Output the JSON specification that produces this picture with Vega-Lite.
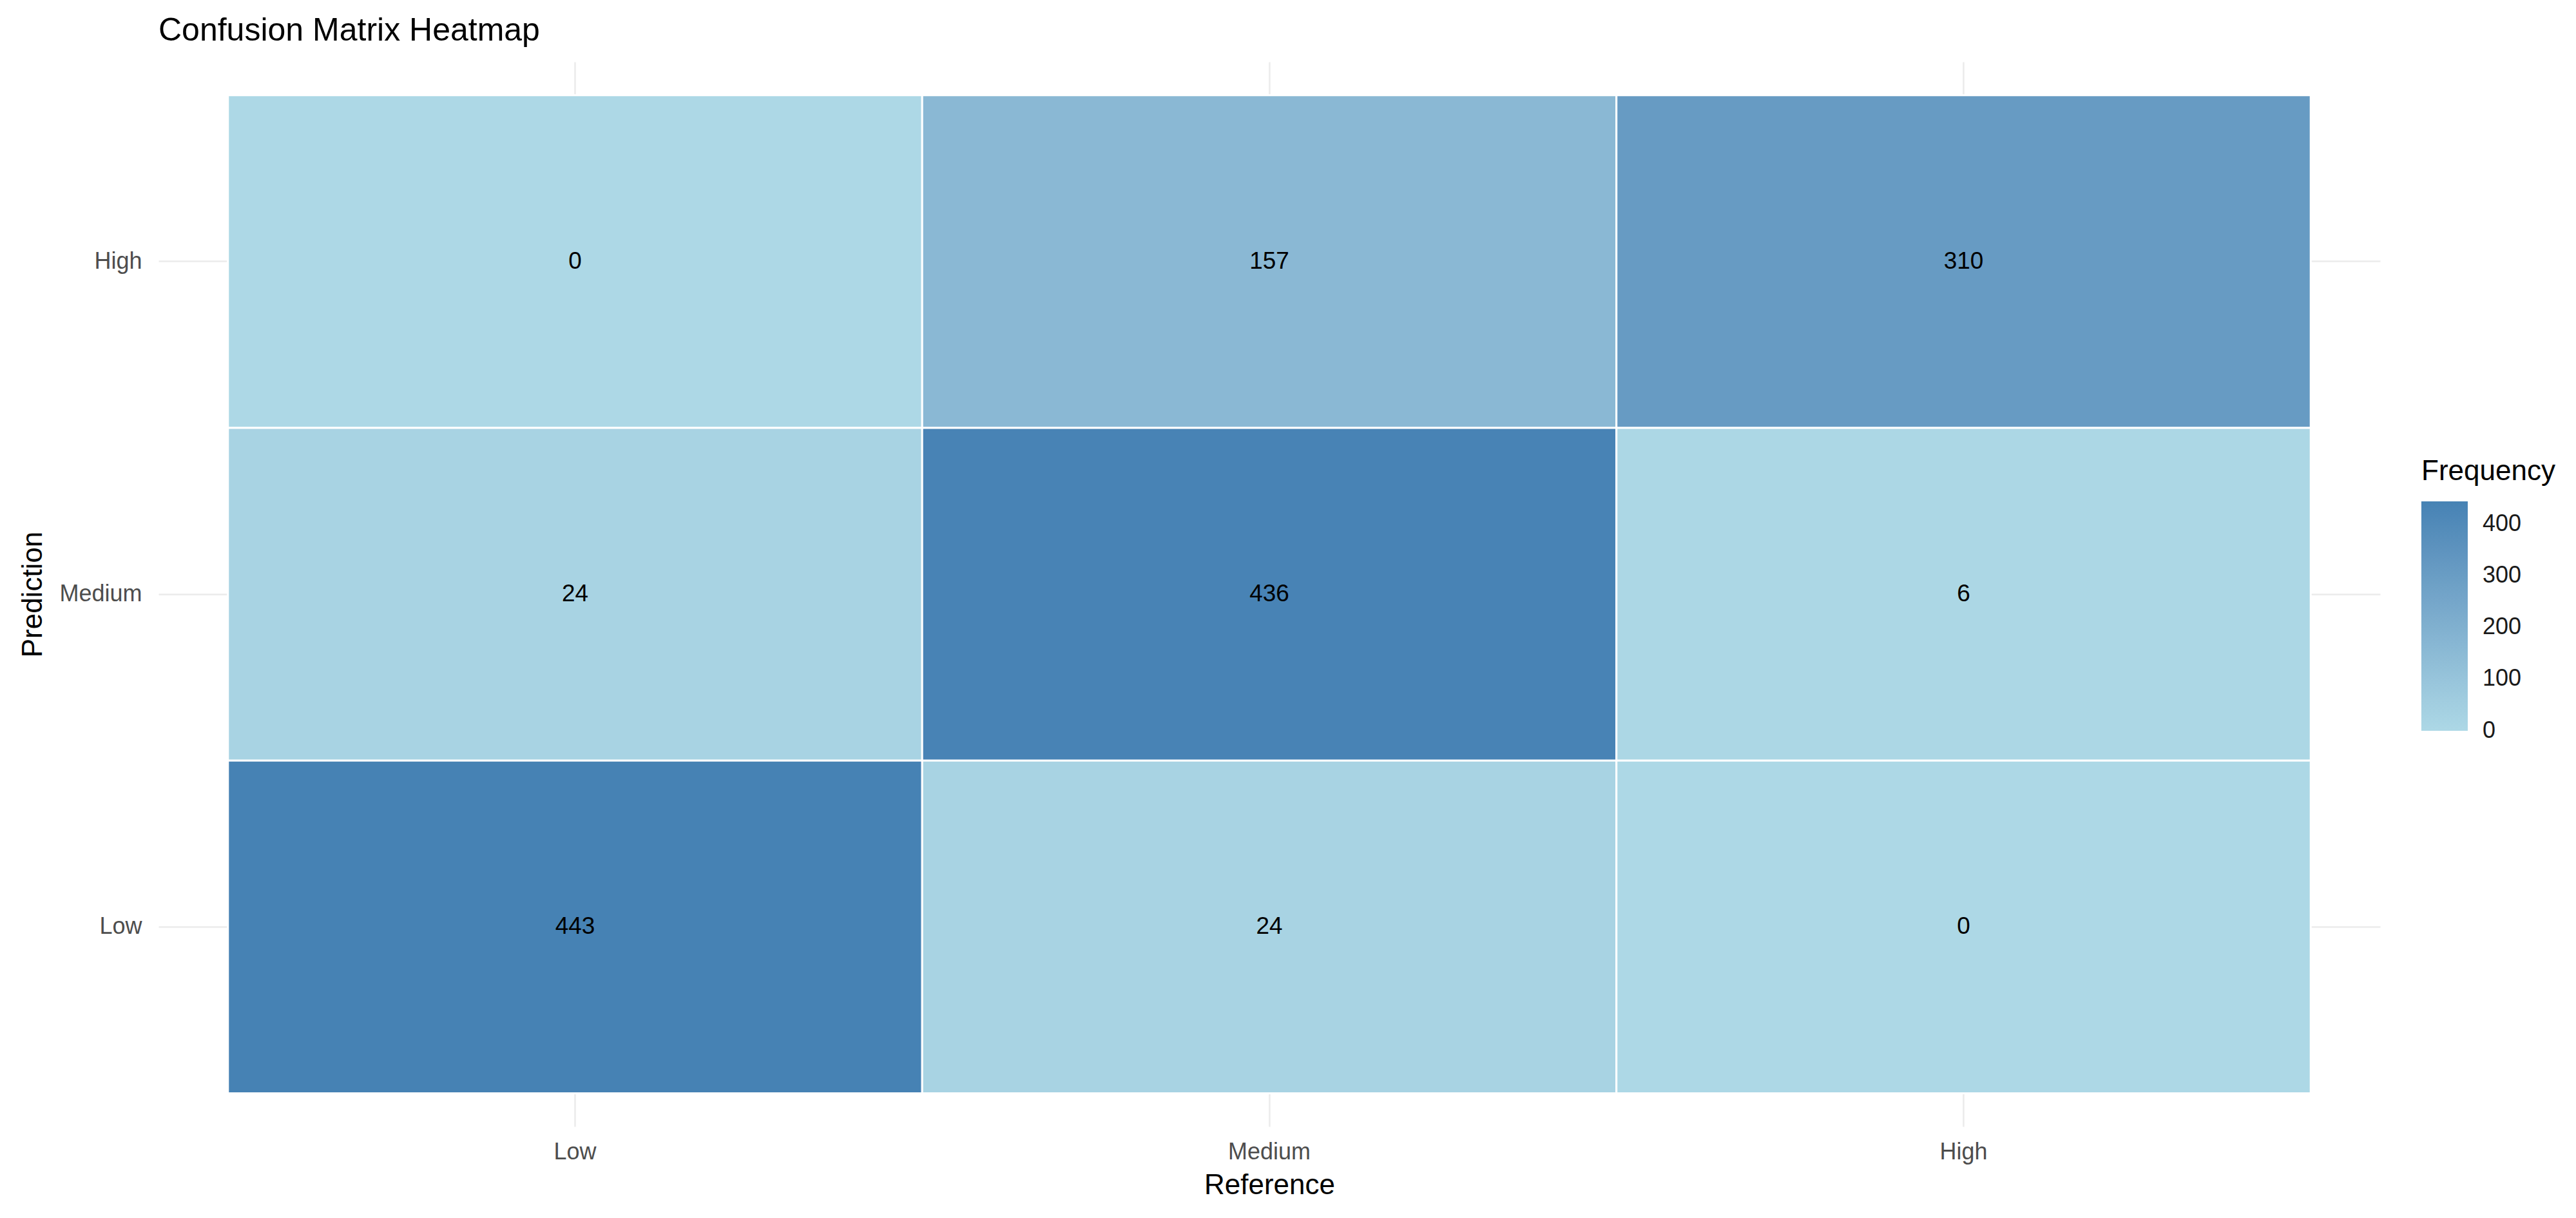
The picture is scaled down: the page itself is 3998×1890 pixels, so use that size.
{
  "$schema": "https://vega.github.io/schema/vega-lite/v6.json",
  "autosize": "none",
  "width": 3448,
  "height": 1652,
  "padding": {"left": 246, "top": 96, "right": 304, "bottom": 142},
  "background": "white",
  "config": {
    "view": {"stroke": null},
    "font": "Liberation Sans",
    "axis": {"zindex": 0}
  },
  "title": {
    "text": "Confusion Matrix Heatmap",
    "anchor": "start",
    "frame": "group",
    "fontSize": 50,
    "fontWeight": "normal",
    "color": "#000000",
    "baseline": "alphabetic",
    "offset": -17
  },
  "data": {
    "values": [
      {"Reference": "Low", "Prediction": "High", "Frequency": 0},
      {"Reference": "Medium", "Prediction": "High", "Frequency": 157},
      {"Reference": "High", "Prediction": "High", "Frequency": 310},
      {"Reference": "Low", "Prediction": "Medium", "Frequency": 24},
      {"Reference": "Medium", "Prediction": "Medium", "Frequency": 436},
      {"Reference": "High", "Prediction": "Medium", "Frequency": 6},
      {"Reference": "Low", "Prediction": "Low", "Frequency": 443},
      {"Reference": "Medium", "Prediction": "Low", "Frequency": 24},
      {"Reference": "High", "Prediction": "Low", "Frequency": 0}
    ]
  },
  "encoding": {
    "x": {
      "field": "Reference",
      "type": "nominal",
      "sort": ["Low", "Medium", "High"],
      "scale": {"paddingInner": 0, "paddingOuter": 0.1},
      "axis": {
        "title": "Reference",
        "labelAngle": 0,
        "grid": true,
        "gridColor": "#EBEBEB",
        "gridWidth": 2.5,
        "domain": false,
        "ticks": false,
        "zindex": 0,
        "labelPadding": 22,
        "labelFontSize": 36,
        "labelColor": "#4D4D4D",
        "titleFontSize": 44,
        "titleFontWeight": "normal",
        "titleColor": "#000000",
        "titlePadding": 12
      }
    },
    "y": {
      "field": "Prediction",
      "type": "nominal",
      "sort": ["High", "Medium", "Low"],
      "scale": {"paddingInner": 0, "paddingOuter": 0.1},
      "axis": {
        "title": "Prediction",
        "grid": true,
        "gridColor": "#EBEBEB",
        "gridWidth": 2.5,
        "domain": false,
        "ticks": false,
        "zindex": 0,
        "labelPadding": 26,
        "labelFontSize": 36,
        "labelColor": "#4D4D4D",
        "titleFontSize": 44,
        "titleFontWeight": "normal",
        "titleColor": "#000000",
        "titlePadding": 18
      }
    }
  },
  "layer": [
    {
      "mark": {"type": "rect", "stroke": "white", "strokeWidth": 3},
      "encoding": {
        "color": {
          "field": "Frequency",
          "type": "quantitative",
          "scale": {"domain": [-0.5, 443], "range": ["#ADD8E6", "#4682B4"], "interpolate": "lab"},
          "legend": {
            "title": "Frequency",
            "orient": "none",
            "legendX": 3512,
            "legendY": 614,
            "direction": "vertical",
            "gradientLength": 356,
            "gradientThickness": 72,
            "gradientStrokeWidth": 0,
            "values": [0, 100, 200, 300, 400],
            "labelFontSize": 36,
            "labelColor": "#1A1A1A",
            "labelOffset": 23,
            "labelBaseline": "middle",
            "labelOverlap": false,
            "titleFontSize": 44,
            "titleFontWeight": "normal",
            "titleColor": "#000000",
            "titlePadding": 24,
            "titleLimit": 1000,
            "labelLimit": 1000
          }
        }
      }
    },
    {
      "mark": {"type": "text", "fontSize": 37, "color": "#000000", "baseline": "middle", "align": "center"},
      "encoding": {
        "text": {"field": "Frequency", "type": "quantitative"}
      }
    }
  ]
}
